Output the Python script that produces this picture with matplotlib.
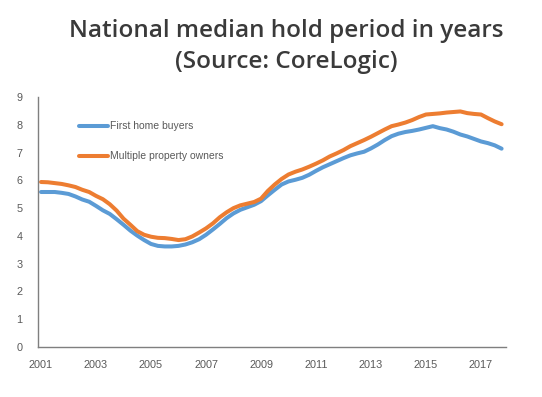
import matplotlib
matplotlib.use("Agg")
import matplotlib.pyplot as plt
import numpy as np

# Quarterly data, 2001 Q1 .. 2017 Q4
start_year = 2001
first_home_buyers = [
    5.58, 5.58, 5.58, 5.55, 5.51, 5.42, 5.31, 5.23, 5.08, 4.92,
    4.79, 4.60, 4.40, 4.19, 4.01, 3.85, 3.71, 3.64, 3.62, 3.62,
    3.64, 3.69, 3.77, 3.88, 4.04, 4.23, 4.43, 4.64, 4.81, 4.94,
    5.03, 5.12, 5.25, 5.46, 5.66, 5.85, 5.96, 6.02, 6.09, 6.20,
    6.34, 6.47, 6.58, 6.69, 6.80, 6.90, 6.97, 7.03, 7.15, 7.29,
    7.45, 7.59, 7.68, 7.74, 7.78, 7.83, 7.89, 7.95, 7.88, 7.83,
    7.75, 7.65, 7.58, 7.49, 7.40, 7.34, 7.26, 7.14,
]
multiple_property_owners = [
    5.94, 5.93, 5.90, 5.87, 5.82, 5.76, 5.66, 5.58, 5.44, 5.32,
    5.14, 4.91, 4.62, 4.40, 4.17, 4.04, 3.97, 3.93, 3.92, 3.89,
    3.85, 3.88, 3.98, 4.12, 4.27, 4.45, 4.67, 4.85, 5.00, 5.10,
    5.16, 5.22, 5.34, 5.62, 5.85, 6.05, 6.21, 6.31, 6.39, 6.49,
    6.60, 6.72, 6.86, 6.97, 7.09, 7.23, 7.34, 7.45, 7.57, 7.70,
    7.83, 7.95, 8.01, 8.08, 8.17, 8.28, 8.37, 8.39, 8.41, 8.44,
    8.46, 8.48, 8.42, 8.39, 8.37, 8.24, 8.12, 8.02,
]
x_tick_labels = ["2001", "2003", "2005", "2007", "2009", "2011", "2013", "2015", "2017"]
y_ticks = [0, 1, 2, 3, 4, 5, 6, 7, 8, 9]

x = start_year + np.arange(len(first_home_buyers)) * 0.25

fig = plt.figure(figsize=(5.42, 3.97), dpi=100)
fig.patch.set_facecolor("white")
ax = fig.add_axes([38/542, 1-347/397, (506-38)/542, (347-97)/397])

ax.plot(x, first_home_buyers, color="#5B9BD5", lw=2.9, label="First home buyers",
        solid_capstyle="round", solid_joinstyle="round")
ax.plot(x, multiple_property_owners, color="#ED7D31", lw=2.9, label="Multiple property owners",
        solid_capstyle="round", solid_joinstyle="round")

ax.set_xlim(2000.89, 2017.91)
ax.set_ylim(0, 9)
ax.set_yticks(y_ticks)
ax.set_xticks([int(s) for s in x_tick_labels])
ax.set_xticklabels(x_tick_labels)
ax.tick_params(axis="both", length=0, labelsize=7.8, labelcolor="#595959",
               labelfontfamily="Liberation Sans")
ax.tick_params(axis="y", pad=11)
ax.tick_params(axis="x", pad=9)
for s in ["top", "right"]:
    ax.spines[s].set_visible(False)
for s in ["left", "bottom"]:
    ax.spines[s].set_color("#7f7f7f")
    ax.spines[s].set_linewidth(1.0)

leg = ax.legend(loc="upper left", bbox_to_anchor=(70/542, 1-112/397),
                bbox_transform=fig.transFigure, frameon=False,
                handlelength=2.7, handletextpad=0.2, labelspacing=1.9,
                prop={"family": "Liberation Sans", "size": 7.5})
for t in leg.get_texts():
    t.set_color("#595959")

fig.text(286/542, 1-31/397, "National median hold period in years",
         ha="center", va="center", fontsize=17.5, color="#3a3a3a",
         family="Open Sans", weight="semibold")
fig.text(286/542, 1-62/397, "(Source: CoreLogic)",
         ha="center", va="center", fontsize=17.5, color="#3a3a3a",
         family="Open Sans", weight="semibold")

fig.savefig("out.png", dpi=100, facecolor="white")
